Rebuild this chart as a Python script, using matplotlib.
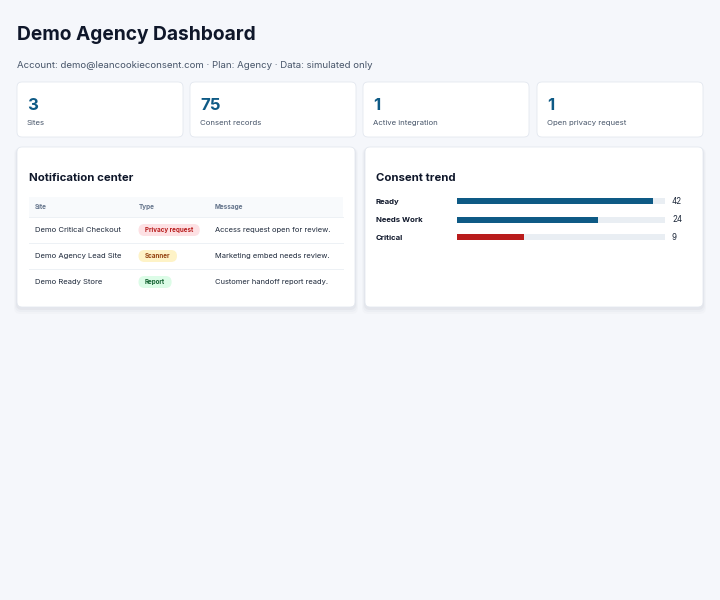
import matplotlib
matplotlib.use("Agg")
import matplotlib.pyplot as plt
from matplotlib.patches import FancyBboxPatch, Rectangle

plt.rcParams['font.family'] = ['Inter', 'DejaVu Sans']

# --- data ---
kpi_values = [3, 75, 1, 1]
kpi_labels = ["Sites", "Consent records", "Active integration", "Open privacy request"]

table_headers = ["Site", "Type", "Message"]
notif_sites = ["Demo Critical Checkout", "Demo Agency Lead Site", "Demo Ready Store"]
notif_types = ["Privacy request", "Scanner", "Report"]
notif_messages = ["Access request open for review.", "Marketing embed needs review.",
                  "Customer handoff report ready."]

trend_labels = ["Ready", "Needs Work", "Critical"]
trend_counts = [42, 24, 9]
trend_fill_pct = [94, 68, 32]   # bar fill

# colours
BG = "#f5f7fb"
DARK = "#0f172a"
TEXT = "#1e293b"
MUTED = "#475569"
BLUE = "#0e5a85"
RED = "#b91c1c"
TRACK = "#e9eef3"
BORDER = "#e3e8ef"
badge_style = {
    "Privacy request": ("#fde1e4", "#b91c1c"),
    "Scanner": ("#fef3c7", "#92400e"),
    "Report": ("#dcfce7", "#166534"),
}

fig = plt.figure(figsize=(7.2, 6.0), dpi=100)
fig.patch.set_facecolor(BG)
ax = fig.add_axes([0, 0, 1, 1])
ax.set_xlim(0, 720)
ax.set_ylim(600, 0)
ax.axis("off")
ax.set_facecolor(BG)


def card(x, y, w, h, shadow=False):
    if shadow:
        for i, a in enumerate([0.035, 0.025, 0.015]):
            s = 2 + i * 2
            ax.add_patch(FancyBboxPatch((x - s / 2, y + 1), w + s, h + s,
                                        boxstyle="round,pad=0,rounding_size=6",
                                        fc="#1e293b", ec="none", alpha=a, zorder=1))
    ax.add_patch(FancyBboxPatch((x, y), w, h, boxstyle="round,pad=0,rounding_size=5",
                                fc="white", ec=BORDER, lw=0.6, zorder=2))


# header
ax.text(17, 39.5, "Demo Agency Dashboard", fontsize=13.8, fontweight="bold",
        color=DARK, va="baseline", ha="left")
ax.text(17, 68, "Account: demo@leancookieconsent.com · Plan: Agency · Data: simulated only",
        fontsize=6.95, color=MUTED, va="baseline", ha="left")

# KPI cards
kpi_x = [17, 190, 363, 537]
for x, v, lab in zip(kpi_x, kpi_values, kpi_labels):
    card(x, 82, 166, 55)
    ax.text(x + 10, 110, str(v), fontsize=12, fontweight="bold", color=BLUE,
            va="baseline", ha="left", zorder=3)
    ax.text(x + 10, 125, lab, fontsize=5.6, color=MUTED, va="baseline", ha="left", zorder=3)

# panels
card(17, 147, 338, 160, shadow=True)
card(365, 147, 338, 160, shadow=True)

# notification center
ax.text(29, 181, "Notification center", fontsize=8.2, fontweight="bold", color=DARK,
        va="baseline", ha="left", zorder=3)
ax.add_patch(Rectangle((29, 197), 314, 19.5, fc="#f8fafc", ec="none", zorder=2.5))
col_x = [35, 139, 215]
for cx, h in zip(col_x, table_headers):
    ax.text(cx, 209.3, h, fontsize=4.6, fontweight="bold", color="#64748b",
            va="baseline", ha="left", zorder=3)
row_base = [232.3, 258.3, 284.3]
row_sep = [217, 243.3, 269.3]
badge_y = [230, 256, 282]
fig.canvas.draw()
renderer = fig.canvas.get_renderer()
inv = ax.transData.inverted()
for i, site in enumerate(notif_sites):
    ax.plot([29, 343], [row_sep[i], row_sep[i]], color="#edf1f5", lw=0.7, zorder=2.6)
    ax.text(col_x[0], row_base[i], site, fontsize=5.5, color=TEXT,
            va="baseline", ha="left", zorder=3)
    ax.text(col_x[2], row_base[i], notif_messages[i], fontsize=5.4, color=TEXT,
            va="baseline", ha="left", zorder=3)
    bg, fg = badge_style[notif_types[i]]
    t = ax.text(145, badge_y[i], notif_types[i], fontsize=4.5, fontweight="bold", color=fg,
                va="center", ha="left", zorder=4)
    bb = t.get_window_extent(renderer)
    (x0, _), (x1, _) = inv.transform([(bb.x0, bb.y0), (bb.x1, bb.y1)])
    ax.add_patch(FancyBboxPatch((x0 - 6.5, badge_y[i] - 6), (x1 - x0) + 13, 12,
                                boxstyle="round,pad=0,rounding_size=6",
                                fc=bg, ec="none", zorder=3.5))

# consent trend
ax.text(376, 181, "Consent trend", fontsize=8.2, fontweight="bold", color=DARK,
        va="baseline", ha="left", zorder=3)
bar_y = [201, 219.5, 237]
label_base = [204, 222, 240]
track_x, track_w = 457, 208
ax.barh(bar_y, [track_w] * len(bar_y), left=track_x, height=6, color=TRACK, zorder=3)
fill_colors = [BLUE, BLUE, RED]
ax.barh(bar_y, [track_w * p / 100 for p in trend_fill_pct], left=track_x, height=6,
        color=fill_colors, zorder=4)
for yb, lab, c in zip(label_base, trend_labels, trend_counts):
    ax.text(376, yb, lab, fontsize=5.6, fontweight="bold", color=DARK,
            va="baseline", ha="left", zorder=3)
    ax.text(672, yb, str(c), fontsize=5.8, color=TEXT, va="baseline", ha="left", zorder=3)

fig.savefig("out.png", dpi=100, facecolor=BG)
